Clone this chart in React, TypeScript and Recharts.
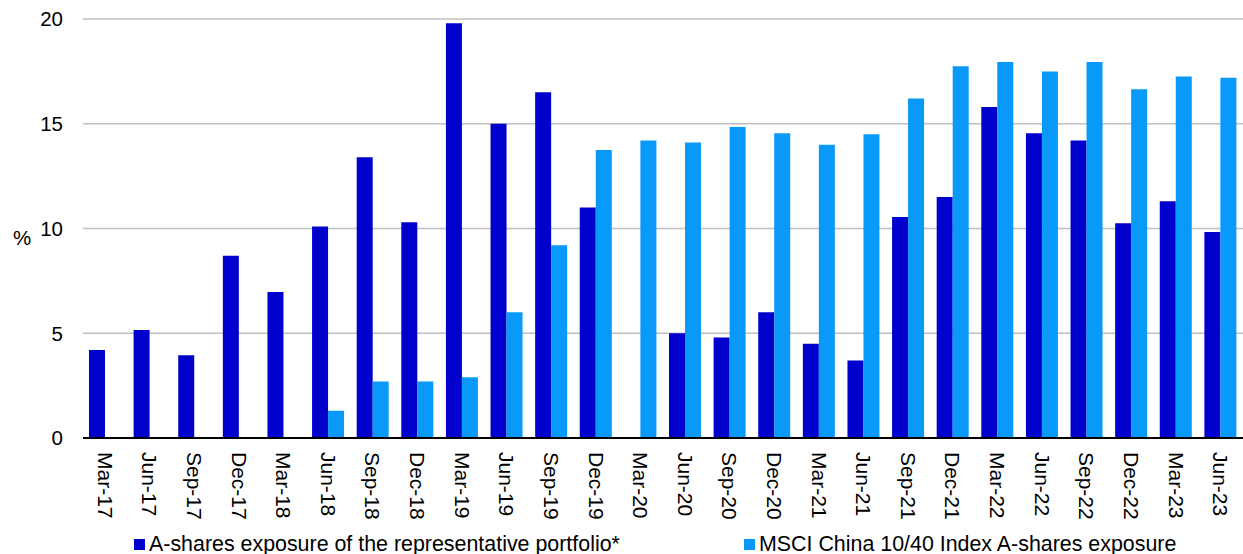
import { BarChart, Bar, XAxis, YAxis, CartesianGrid, Legend } from "recharts";

const quarters = [
  "Mar-17", "Jun-17", "Sep-17", "Dec-17",
  "Mar-18", "Jun-18", "Sep-18", "Dec-18",
  "Mar-19", "Jun-19", "Sep-19", "Dec-19",
  "Mar-20", "Jun-20", "Sep-20", "Dec-20",
  "Mar-21", "Jun-21", "Sep-21", "Dec-21",
  "Mar-22", "Jun-22", "Sep-22", "Dec-22",
  "Mar-23", "Jun-23",
];

const portfolio = [
  4.2, 5.15, 3.95, 8.7,
  6.97, 10.1, 13.4, 10.3,
  19.8, 15.0, 16.5, 11.0,
  0, 5.0, 4.8, 6.0,
  4.5, 3.7, 10.55, 11.5,
  15.8, 14.55, 14.2, 10.25,
  11.3, 9.83,
];

const msci = [
  0, 0, 0, 0,
  0, 1.3, 2.7, 2.7,
  2.9, 6.0, 9.2, 13.75,
  14.2, 14.1, 14.85, 14.55,
  14.0, 14.5, 16.2, 17.75,
  17.95, 17.5, 17.95, 16.65,
  17.25, 17.2,
];

const yTicks = [0, 5, 10, 15, 20];

const DARK = "#0000CC";
const LIGHT = "#0899F9";
const FONT = "'Liberation Sans', Arial, sans-serif";

const data = quarters.map((q, i) => ({
  name: q,
  portfolio: portfolio[i],
  msci: msci[i],
}));

const RotatedTick = (props: any) => {
  const { x, y, payload } = props;
  return (
    <text
      transform={`translate(${x},${y}) rotate(90)`}
      textAnchor="start"
      dy="0.36em"
      fontSize={21}
      fontFamily={FONT}
      fill="#000"
    >
      {payload.value}
    </text>
  );
};

const LegendContent = () => (
  <div
    style={{
      position: "relative",
      width: 1243,
      height: 20,
      fontFamily: FONT,
      fontSize: 21.4,
      color: "#000",
      lineHeight: "20px",
    }}
  >
    <div style={{ position: "absolute", left: 134, top: 0, display: "flex", alignItems: "center", height: 20, whiteSpace: "nowrap" }}>
      <span style={{ width: 11, height: 11, background: DARK, display: "inline-block", marginRight: 4 }} />
      <span>A-shares exposure of the representative portfolio*</span>
    </div>
    <div style={{ position: "absolute", left: 744, top: 0, display: "flex", alignItems: "center", height: 20, whiteSpace: "nowrap" }}>
      <span style={{ width: 11, height: 11, background: LIGHT, display: "inline-block", marginRight: 4 }} />
      <span>MSCI China 10/40 Index A-shares exposure</span>
    </div>
  </div>
);

export default function App() {
  return (
    <div style={{ position: "absolute", left: 0, top: 0, background: "#fff" }}>
      <BarChart
        width={1243}
        height={554}
        data={data}
        margin={{ top: 19, right: 0, bottom: 0, left: 0 }}
        barGap={0}
      >
        <CartesianGrid vertical={false} stroke="#c0c0c0" strokeWidth={1.5} />
        <XAxis
          dataKey="name"
          interval={0}
          height={96}
          tickLine={false}
          tickSize={0}
          tickMargin={14}
          axisLine={{ stroke: "#000", strokeWidth: 2 }}
          tick={<RotatedTick />}
        />
        <YAxis
          width={83}
          domain={[0, 20]}
          ticks={yTicks}
          axisLine={false}
          tickLine={false}
          tickSize={0}
          tickMargin={20}
          tick={{ fill: "#000", fontSize: 20.5, fontFamily: FONT }}
          label={{
            content: (p: any) => {
              const vb = p.viewBox || {};
              return (
                <text
                  x={22}
                  y={(vb.y ?? 19) + (vb.height ?? 419) / 2 + 9}
                  textAnchor="middle"
                  dominantBaseline="central"
                  fontSize={20.5}
                  fontFamily={FONT}
                  fill="#000"
                >
                  %
                </text>
              );
            },
          }}
        />
        <Legend verticalAlign="bottom" height={20} content={<LegendContent />} wrapperStyle={{ left: 0, bottom: 0, width: 1243 }} />
        <Bar dataKey="portfolio" fill={DARK} barSize={16} isAnimationActive={false} />
        <Bar dataKey="msci" fill={LIGHT} barSize={16} isAnimationActive={false} />
      </BarChart>
    </div>
  );
}
